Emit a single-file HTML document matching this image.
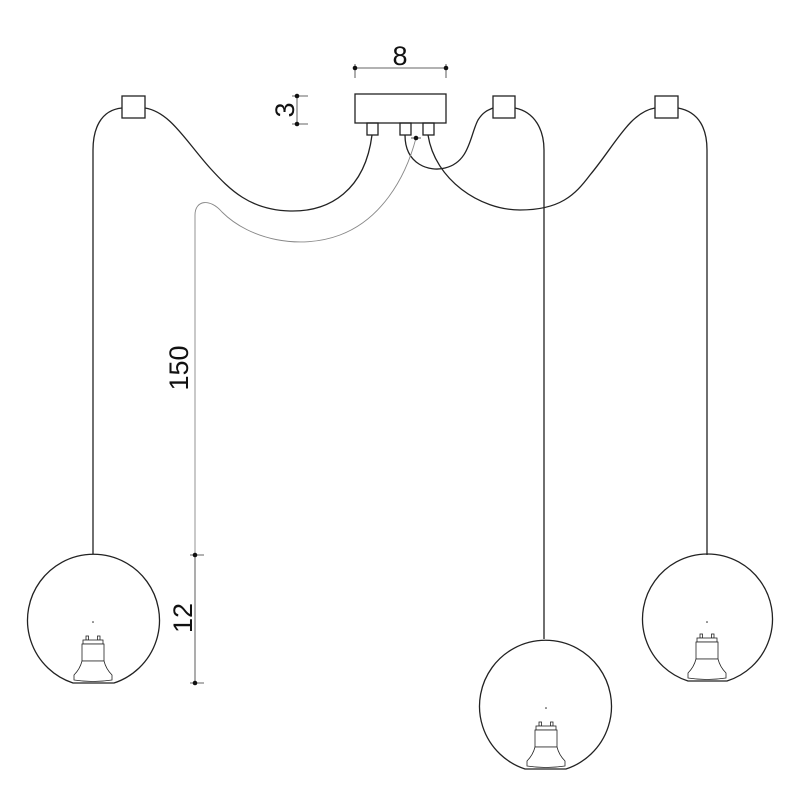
<!DOCTYPE html>
<html><head><style>body{margin:0;background:#fff}svg{display:block}</style></head><body>
<svg width="800" height="800" viewBox="0 0 800 800" xmlns="http://www.w3.org/2000/svg">
<defs>
<g id="bulb" fill="#fff" stroke="#222" stroke-width="0.8">
<rect x="-7" y="-45" width="2.5" height="4"/><rect x="4.5" y="-45" width="2.5" height="4"/>
<rect x="-10" y="-41" width="20" height="4"/>
<rect x="-11" y="-37" width="22" height="17"/>
<path d="M-11,-20 L11,-20 Q13,-12 19,-6 L19,-1 Q0,2 -19,-1 L-19,-6 Q-13,-12 -11,-20Z"/>
</g>
</defs>
<g fill="none" stroke="#222" stroke-width="1.3">
<!-- canopy -->
<rect x="355" y="94" width="91" height="29"/>
<rect x="367" y="123" width="11" height="12"/>
<rect x="400" y="123" width="11" height="12"/>
<rect x="423" y="123" width="11" height="12"/>
<!-- hooks -->
<rect x="122" y="96" width="23" height="22"/>
<rect x="493" y="96" width="22" height="22"/>
<rect x="655" y="96" width="23" height="22"/>
<!-- left cable -->
<path d="M372,135 C365,190 330,212 290,211 C250,210 230,190 210,168 C185,140 170,112 145,108"/>
<path d="M122,108 C100,110 93,130 93,150 L93,554"/>
<!-- middle cable -->
<path d="M405,135 C405,165 430,172 445,168 C470,162 470,135 478,120 C483,112 488,110 493,108"/>
<path d="M515,108 C535,112 544,130 544,150 L544,639"/>
<!-- right cable -->
<path d="M428,135 C435,180 480,210 520,210 C560,210 575,195 590,175 C615,145 630,112 655,108"/>
<path d="M678,108 C700,112 707,130 707,150 L707,555"/>
<!-- spheres -->
<path d="M73,683 A66,66 0 1 1 114,683 Z"/>
<path d="M525,769 A66,66 0 1 1 566,769 Z"/>
<path d="M688,681 A65,65 0 1 1 727,681 Z"/>
</g>
<use href="#bulb" x="93" y="681"/>
<use href="#bulb" x="546" y="767"/>
<use href="#bulb" x="707" y="679"/>
<g fill="#222"><circle cx="93" cy="622" r="0.8"/><circle cx="546" cy="708" r="0.8"/><circle cx="707" cy="622" r="0.8"/></g>
<!-- dimension lines -->
<g stroke="#333" stroke-width="0.8" fill="none">
<path d="M355,68 L446,68 M355,64 L355,78 M446,64 L446,78"/>
<path d="M297,96 L297,124 M292,96 L308,96 M292,124 L308,124"/>
<path d="M195,555 L195,683 M190,555 L204,555 M190,683 L204,683"/>
<path d="M411,138 L421,138"/>
</g>
<path d="M195,555 L195,215 C195,200 210,198 222,212 C250,240 300,250 340,235 C380,220 405,180 416,138" fill="none" stroke="#888" stroke-width="0.9"/>
<g fill="#111"><circle cx="355" cy="68" r="2.3"/><circle cx="446" cy="68" r="2.3"/><circle cx="297" cy="96" r="2.3"/><circle cx="297" cy="124" r="2.3"/><circle cx="195" cy="555" r="2.3"/><circle cx="195" cy="683" r="2.3"/><circle cx="416" cy="138" r="2.3"/></g>
<g font-family="Liberation Sans, sans-serif" font-size="27" fill="#111" text-anchor="middle">
<text x="400" y="65">8</text>
<text transform="translate(294,110) rotate(-90)">3</text>
<text transform="translate(188,368) rotate(-90)">150</text>
<text transform="translate(192,618) rotate(-90)">12</text>
</g>
</svg>
</body></html>
